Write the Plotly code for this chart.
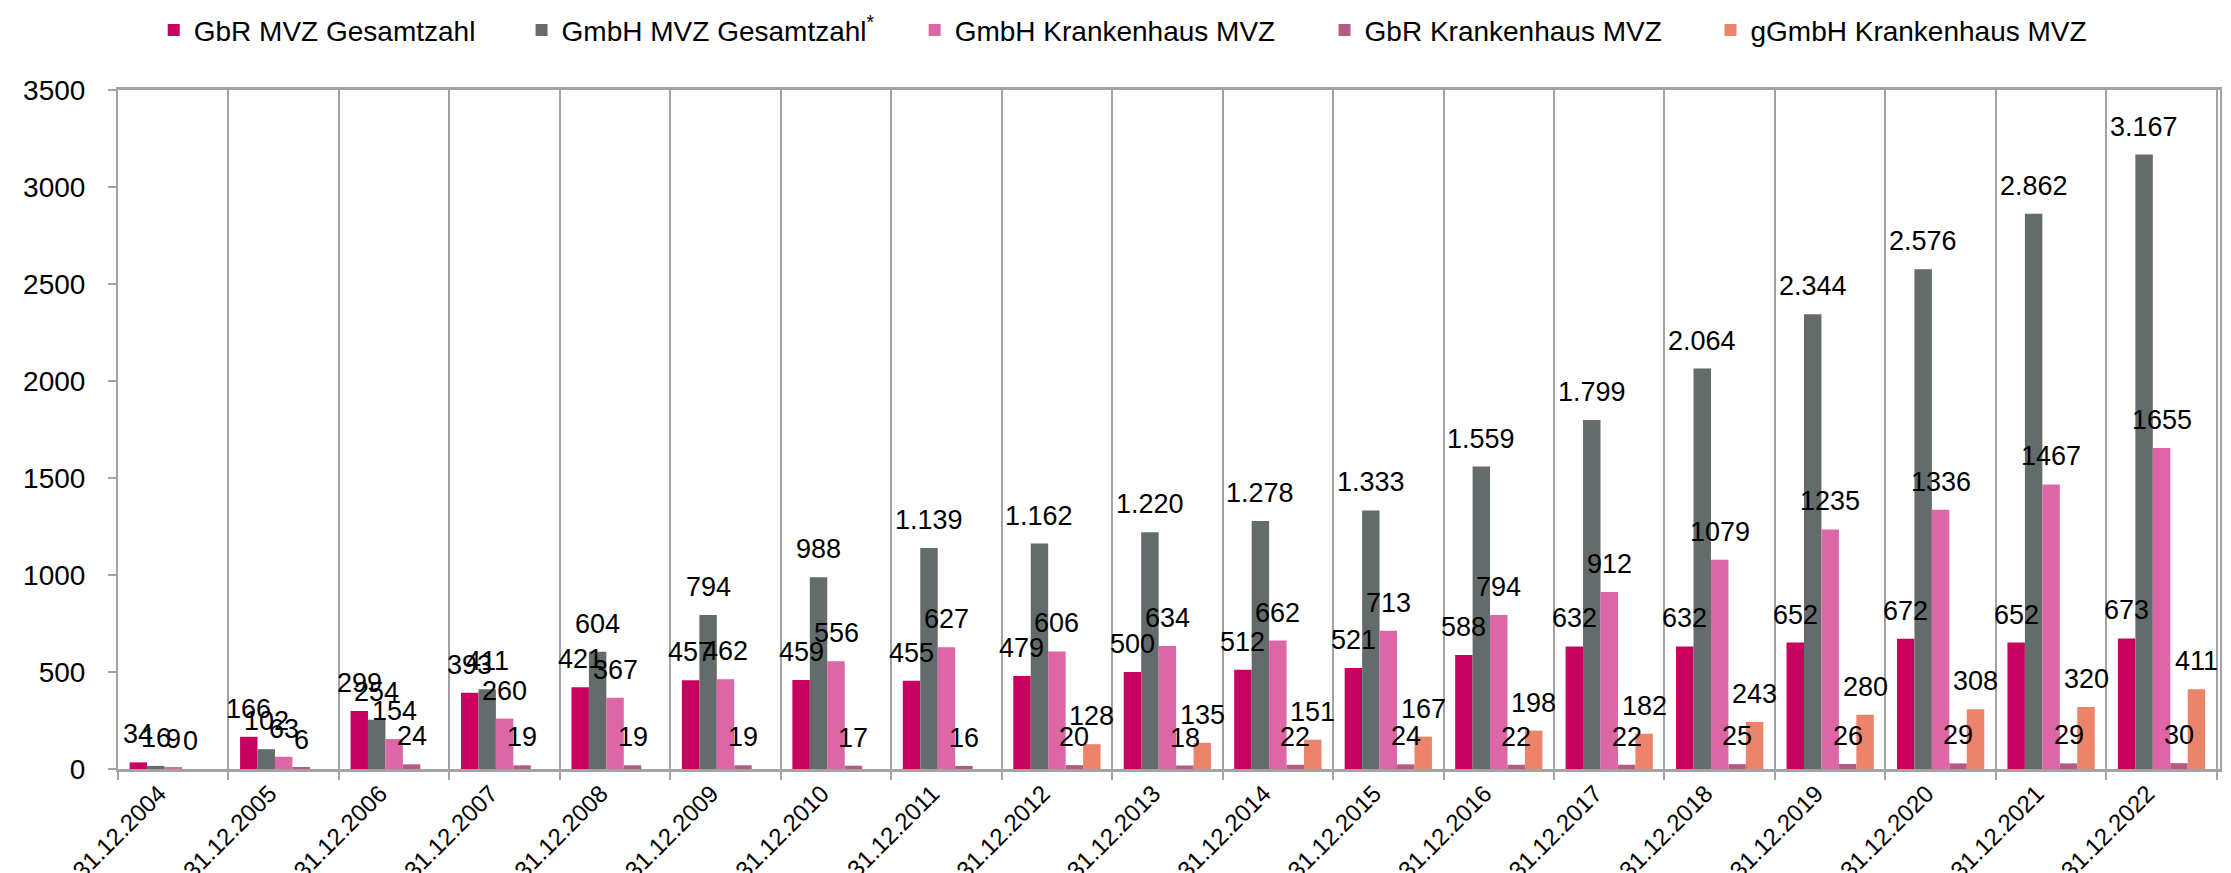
import plotly.graph_objects as go

categories = ["31.12.2004", "31.12.2005", "31.12.2006", "31.12.2007", "31.12.2008",
              "31.12.2009", "31.12.2010", "31.12.2011", "31.12.2012", "31.12.2013",
              "31.12.2014", "31.12.2015", "31.12.2016", "31.12.2017", "31.12.2018",
              "31.12.2019", "31.12.2020", "31.12.2021", "31.12.2022"]

gbr_mvz = [34, 166, 299, 393, 421, 457, 459, 455, 479, 500, 512, 521, 588, 632, 632, 652, 672, 652, 673]
gmbh_mvz = [16, 102, 254, 411, 604, 794, 988, 1139, 1162, 1220, 1278, 1333, 1559, 1799, 2064, 2344, 2576, 2862, 3167]
gmbh_kh = [9, 63, 154, 260, 367, 462, 556, 627, 606, 634, 662, 713, 794, 912, 1079, 1235, 1336, 1467, 1655]
gbr_kh = [0, 6, 24, 19, 19, 19, 17, 16, 20, 18, 22, 24, 22, 22, 25, 26, 29, 29, 30]
ggmbh_kh = [None, None, None, None, None, None, None, None, 128, 135, 151, 167, 198, 182, 243, 280, 308, 320, 411]

series_names = ["GbR MVZ Gesamtzahl", "GmbH MVZ Gesamtzahl<sup>*</sup>", "GmbH Krankenhaus MVZ",
                "GbR Krankenhaus MVZ", "gGmbH Krankenhaus MVZ"]
series_values = [gbr_mvz, gmbh_mvz, gmbh_kh, gbr_kh, ggmbh_kh]
series_colors = ["#c8005f", "#636b6b", "#dc66a6", "#b45a86", "#ec836b"]
dotted_thousands = [False, True, False, False, False]
# horizontal placement of each legend entry (fraction of plot width)
legend_x = [0.0170, 0.1920, 0.3790, 0.5740, 0.7576]

W, H = 2231, 873
ML, MR, MT, MB = 110, 19, 82, 112
BARGAP = 0.21
FONT = "Liberation Sans, Arial, sans-serif"

fig = go.Figure()
legend_ids = ["legend"] + [f"legend{k}" for k in range(2, len(series_names) + 1)]
for name, vals, col, lid in zip(series_names, series_values, series_colors, legend_ids):
    fig.add_trace(go.Bar(x=categories, y=vals, name=name, legend=lid,
                         marker=dict(color=col, line=dict(width=0))))

# data labels above each bar
cat_px = (W - ML - MR) / len(categories)
bar_px = cat_px * (1 - BARGAP) / len(series_values)
annotations = []
for i, (vals, dotted) in enumerate(zip(series_values, dotted_thousands)):
    for c, v in zip(categories, vals):
        if v is None:
            continue
        txt = f"{v:,}".replace(",", ".") if dotted else str(v)
        annotations.append(dict(x=c, y=v, text=txt, showarrow=False,
                                xref="x", yref="y", yanchor="bottom",
                                xshift=(i - 2) * bar_px, yshift=11,
                                font=dict(size=27, color="#000000", family=FONT)))

legends = {}
for lid, lx in zip(legend_ids, legend_x):
    legends[lid] = dict(orientation="h", x=lx, xanchor="left", y=1.088, yanchor="middle",
                        font=dict(size=28, color="#000000", family=FONT),
                        bgcolor="rgba(0,0,0,0)", borderwidth=0)

grid_col = "#a3a3a3"
fig.update_layout(
    width=W, height=H,
    margin=dict(l=ML, r=MR, t=MT, b=MB, autoexpand=False),
    paper_bgcolor="white", plot_bgcolor="white",
    barmode="group", bargap=BARGAP, bargroupgap=0,
    font=dict(family=FONT, color="#000000"),
    showlegend=True,
    annotations=annotations,
    xaxis=dict(type="category", tickson="boundaries", showgrid=True, gridcolor=grid_col,
               gridwidth=2, ticks="outside", ticklen=8, tickwidth=2, tickcolor=grid_col,
               showline=True, linecolor=grid_col, linewidth=3, mirror=True,
               tickangle=-45, ticklabelshift=-14, ticklabelstandoff=-2,
               tickfont=dict(size=24, color="#000000"), automargin=False),
    yaxis=dict(range=[0, 3500], dtick=500, tick0=0, tickformat="d", showgrid=False,
               zeroline=False, ticks="outside", ticklen=8, tickwidth=2, tickcolor=grid_col,
               showline=True, linecolor=grid_col, linewidth=2, mirror=True,
               ticklabelstandoff=17,
               tickfont=dict(size=28, color="#000000"), automargin=False),
    **legends,
)

fig.write_html("out.html")
